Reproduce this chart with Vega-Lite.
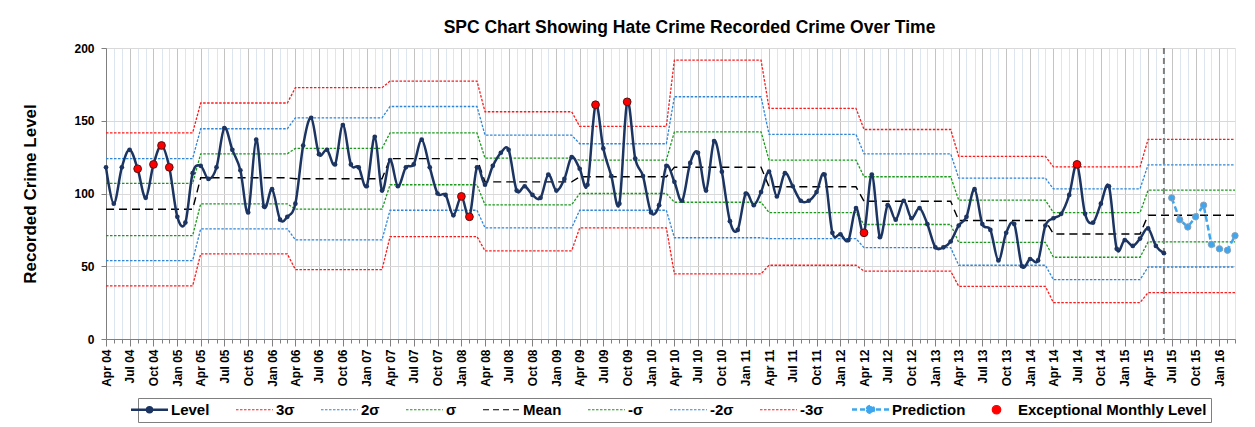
{
  "$schema": "https://vega.github.io/schema/vega-lite/v6.json",
  "autosize": {"type": "none"},
  "width": 1129,
  "height": 291,
  "padding": {"left": 106, "top": 48, "right": 20, "bottom": 88},
  "background": "#ffffff",
  "title": {"text": "SPC Chart Showing Hate Crime Recorded Crime Over Time", "font": "Liberation Sans", "fontSize": 17.5, "fontWeight": "bold", "color": "#000000", "anchor": "middle", "offset": 6, "dx": 19},
  "datasets": {
    "lvl": [
      {"d":"2004-04-01","v":118},{"d":"2004-05-01","v":93},{"d":"2004-06-01","v":118},{"d":"2004-07-01","v":130},{"d":"2004-08-01","v":117,"e":1},{"d":"2004-09-01","v":97},{"d":"2004-10-01","v":120,"e":1},{"d":"2004-11-01","v":133,"e":1},{"d":"2004-12-01","v":118,"e":1},{"d":"2005-01-01","v":84},{"d":"2005-02-01","v":80},{"d":"2005-03-01","v":114},
      {"d":"2005-04-01","v":119},{"d":"2005-05-01","v":110},{"d":"2005-06-01","v":118},{"d":"2005-07-01","v":145},{"d":"2005-08-01","v":130},{"d":"2005-09-01","v":116},{"d":"2005-10-01","v":87},{"d":"2005-11-01","v":137},{"d":"2005-12-01","v":91},{"d":"2006-01-01","v":103},{"d":"2006-02-01","v":82},{"d":"2006-03-01","v":84},
      {"d":"2006-04-01","v":93},{"d":"2006-05-01","v":133},{"d":"2006-06-01","v":152},{"d":"2006-07-01","v":127},{"d":"2006-08-01","v":130},{"d":"2006-09-01","v":120},{"d":"2006-10-01","v":147},{"d":"2006-11-01","v":120},{"d":"2006-12-01","v":118},{"d":"2007-01-01","v":105},{"d":"2007-02-01","v":139},{"d":"2007-03-01","v":102},
      {"d":"2007-04-01","v":123},{"d":"2007-05-01","v":105},{"d":"2007-06-01","v":118},{"d":"2007-07-01","v":120},{"d":"2007-08-01","v":137},{"d":"2007-09-01","v":118},{"d":"2007-10-01","v":100},{"d":"2007-11-01","v":99},{"d":"2007-12-01","v":85},{"d":"2008-01-01","v":98,"e":1},{"d":"2008-02-01","v":84,"e":1},{"d":"2008-03-01","v":118},
      {"d":"2008-04-01","v":106},{"d":"2008-05-01","v":119},{"d":"2008-06-01","v":128},{"d":"2008-07-01","v":130},{"d":"2008-08-01","v":102},{"d":"2008-09-01","v":105},{"d":"2008-10-01","v":99},{"d":"2008-11-01","v":97},{"d":"2008-12-01","v":113},{"d":"2009-01-01","v":102},{"d":"2009-02-01","v":110},{"d":"2009-03-01","v":125},
      {"d":"2009-04-01","v":117},{"d":"2009-05-01","v":106},{"d":"2009-06-01","v":161,"e":1},{"d":"2009-07-01","v":131},{"d":"2009-08-01","v":112},{"d":"2009-09-01","v":93},{"d":"2009-10-01","v":163,"e":1},{"d":"2009-11-01","v":124},{"d":"2009-12-01","v":112},{"d":"2010-01-01","v":87},{"d":"2010-02-01","v":92},{"d":"2010-03-01","v":119},
      {"d":"2010-04-01","v":108},{"d":"2010-05-01","v":95},{"d":"2010-06-01","v":121},{"d":"2010-07-01","v":128},{"d":"2010-08-01","v":102},{"d":"2010-09-01","v":136},{"d":"2010-10-01","v":115},{"d":"2010-11-01","v":81},{"d":"2010-12-01","v":75},{"d":"2011-01-01","v":100},{"d":"2011-02-01","v":92},{"d":"2011-03-01","v":101},
      {"d":"2011-04-01","v":115},{"d":"2011-05-01","v":98},{"d":"2011-06-01","v":114},{"d":"2011-07-01","v":105},{"d":"2011-08-01","v":95},{"d":"2011-09-01","v":95},{"d":"2011-10-01","v":101},{"d":"2011-11-01","v":113},{"d":"2011-12-01","v":73},{"d":"2012-01-01","v":72},{"d":"2012-02-01","v":68},{"d":"2012-03-01","v":90},
      {"d":"2012-04-01","v":73,"e":1},{"d":"2012-05-01","v":113},{"d":"2012-06-01","v":70},{"d":"2012-07-01","v":92},{"d":"2012-08-01","v":82},{"d":"2012-09-01","v":95},{"d":"2012-10-01","v":83},{"d":"2012-11-01","v":90},{"d":"2012-12-01","v":79},{"d":"2013-01-01","v":63},{"d":"2013-02-01","v":63},{"d":"2013-03-01","v":67},
      {"d":"2013-04-01","v":78},{"d":"2013-05-01","v":84},{"d":"2013-06-01","v":103},{"d":"2013-07-01","v":79},{"d":"2013-08-01","v":75},{"d":"2013-09-01","v":54},{"d":"2013-10-01","v":73},{"d":"2013-11-01","v":79},{"d":"2013-12-01","v":50},{"d":"2014-01-01","v":55},{"d":"2014-02-01","v":54},{"d":"2014-03-01","v":78},
      {"d":"2014-04-01","v":83},{"d":"2014-05-01","v":86},{"d":"2014-06-01","v":99},{"d":"2014-07-01","v":120,"e":1},{"d":"2014-08-01","v":86},{"d":"2014-09-01","v":80},{"d":"2014-10-01","v":93},{"d":"2014-11-01","v":105},{"d":"2014-12-01","v":62},{"d":"2015-01-01","v":68},{"d":"2015-02-01","v":64},{"d":"2015-03-01","v":69},
      {"d":"2015-04-01","v":76},{"d":"2015-05-01","v":64},{"d":"2015-06-01","v":59}
    ],
    "pred": [
      {"d":"2015-07-01","v":97},{"d":"2015-08-01","v":82},{"d":"2015-09-01","v":77},{"d":"2015-10-01","v":84},{"d":"2015-11-01","v":92},{"d":"2015-12-01","v":65},{"d":"2016-01-01","v":62},{"d":"2016-02-01","v":61},{"d":"2016-03-01","v":71}
    ],
    "lim": [
      {"d":"2004-04-01","3σ":141.7,"2σ":124,"σ":106.9,"Mean":89.2,"-σ":71.1,"-2σ":53.9,"-3σ":36.5},
      {"d":"2005-03-01","3σ":141.7,"2σ":124,"σ":106.9,"Mean":89.2,"-σ":71.1,"-2σ":53.9,"-3σ":36.5},
      {"d":"2005-04-01","3σ":162.2,"2σ":144.5,"σ":127.3,"Mean":110.8,"-σ":92.9,"-2σ":75.7,"-3σ":58.5},
      {"d":"2006-03-01","3σ":162.2,"2σ":144.5,"σ":127.3,"Mean":110.8,"-σ":92.9,"-2σ":75.7,"-3σ":58.5},
      {"d":"2006-04-01","3σ":172.7,"2σ":152,"σ":131,"Mean":110.1,"-σ":89.2,"-2σ":68.1,"-3σ":47.7},
      {"d":"2007-03-01","3σ":172.7,"2σ":152,"σ":131,"Mean":110.1,"-σ":89.2,"-2σ":68.1,"-3σ":47.7},
      {"d":"2007-04-01","3σ":177.3,"2σ":159.8,"σ":141.7,"Mean":124,"-σ":106,"-2σ":88.5,"-3σ":70.4},
      {"d":"2008-03-01","3σ":177.3,"2σ":159.8,"σ":141.7,"Mean":124,"-σ":106,"-2σ":88.5,"-3σ":70.4},
      {"d":"2008-04-01","3σ":156.2,"2σ":140.1,"σ":124.3,"Mean":108,"-σ":92.2,"-2σ":76.4,"-3σ":60.6},
      {"d":"2009-03-01","3σ":156.2,"2σ":140.1,"σ":124.3,"Mean":108,"-σ":92.2,"-2σ":76.4,"-3σ":60.6},
      {"d":"2009-04-01","3σ":146.1,"2σ":134.2,"σ":123,"Mean":111.5,"-σ":100,"-2σ":88.5,"-3σ":76.4},
      {"d":"2010-03-01","3σ":146.1,"2σ":134.2,"σ":123,"Mean":111.5,"-σ":100,"-2σ":88.5,"-3σ":76.4},
      {"d":"2010-04-01","3σ":191.7,"2σ":166.5,"σ":142.4,"Mean":118,"-σ":94,"-2σ":69.6,"-3σ":44.8},
      {"d":"2011-03-01","3σ":191.7,"2σ":166.5,"σ":142.4,"Mean":118,"-σ":94,"-2σ":69.6,"-3σ":44.8},
      {"d":"2011-04-01","3σ":158.5,"2σ":140.6,"σ":122.9,"Mean":104.6,"-σ":86.9,"-2σ":69,"-3σ":50.7},
      {"d":"2012-03-01","3σ":158.5,"2σ":140.6,"σ":122.9,"Mean":104.6,"-σ":86.9,"-2σ":69,"-3σ":50.7},
      {"d":"2012-04-01","3σ":144,"2σ":127.3,"σ":111.5,"Mean":94.7,"-σ":78.7,"-2σ":62.8,"-3σ":46.6},
      {"d":"2013-03-01","3σ":144,"2σ":127.3,"σ":111.5,"Mean":94.7,"-σ":78.7,"-2σ":62.8,"-3σ":46.6},
      {"d":"2013-04-01","3σ":125.5,"2σ":110.6,"σ":95.4,"Mean":81.4,"-σ":66.4,"-2σ":50.7,"-3σ":36.2},
      {"d":"2014-03-01","3σ":125.5,"2σ":110.6,"σ":95.4,"Mean":81.4,"-σ":66.4,"-2σ":50.7,"-3σ":36.2},
      {"d":"2014-04-01","3σ":118.3,"2σ":103.2,"σ":86.9,"Mean":72.2,"-σ":56.2,"-2σ":40.8,"-3σ":25},
      {"d":"2015-03-01","3σ":118.3,"2σ":103.2,"σ":86.9,"Mean":72.2,"-σ":56.2,"-2σ":40.8,"-3σ":25},
      {"d":"2015-04-01","3σ":137.2,"2σ":119.7,"σ":102.3,"Mean":85.1,"-σ":66.7,"-2σ":49.5,"-3σ":31.9},
      {"d":"2016-03-01","3σ":137.2,"2σ":119.7,"σ":102.3,"Mean":85.1,"-σ":66.7,"-2σ":49.5,"-3σ":31.9}
    ],
    "cut": [{"d":"2015-06-01"}]
  },
  "encoding": {
    "x": {
      "field": "d", "type": "temporal", "title": null,
      "scale": {"type": "utc", "domain": [{"year":2004,"month":4,"date":1,"utc":true},{"year":2016,"month":3,"date":1,"utc":true}], "nice": false},
      "axis": {
        "tickCount": {"interval": "month", "step": 1},
        "labelExpr": "utcmonth(datum.value) % 3 == 0 ? utcFormat(datum.value, '%b %y') : ''",
        "labelAngle": 270,
        "labelOverlap": false, "labelFlush": false, "labelBound": false,
        "labelFont": "Liberation Sans", "labelFontSize": 12, "labelFontWeight": "bold", "labelColor": "#000000", "labelPadding": 3,
        "grid": true,
        "gridColor": {"condition": {"test": "utcmonth(datum.value) % 3 == 0", "value": "#c4c4c4"}, "value": "#dde5ee"},
        "gridWidth": 1,
        "tickColor": "#7f7f7f",
        "tickSize": {"condition": {"test": "utcmonth(datum.value) % 3 == 0", "value": 7}, "value": 4},
        "domainColor": "#7f7f7f", "domainWidth": 1
      }
    }
  },
  "layer": [
    {
      "data": {"name": "lim"},
      "transform": [{"fold": ["3σ","2σ","σ","-σ","-2σ","-3σ"], "as": ["series","v"]}],
      "mark": {"type": "line", "strokeWidth": 1.3, "strokeDash": [2.5,1.5]},
      "encoding": {
        "y": {"field": "v", "type": "quantitative", "title": "Recorded Crime Level", "scale": {"domain": [0,200], "nice": false}},
        "color": {
          "field": "series", "type": "nominal",
          "scale": {
            "domain": ["Level","3σ","2σ","σ","Mean","-σ","-2σ","-3σ","Prediction","Exceptional Monthly Level"],
            "range": ["#1c3461","#ff1a1a","#2f86d8","#1a991a","#000000","#1a991a","#2f86d8","#ff1a1a","#3ea6ee","#ff0000"]
          },
          "legend": {
            "title": null, "orient": "none", "legendX": 32, "legendY": 350, "direction": "horizontal",
            "symbolSize": 100, "symbolStrokeWidth": 1,
            "labelFont": "Liberation Sans", "labelFontSize": 15, "labelFontWeight": "bold", "labelColor": "#000000", "labelLimit": 400,
            "labelOffset": 14, "columnPadding": 23,
            "strokeColor": "#7f7f7f", "padding": 4,
            "encode": {
              "symbols": {
                "update": {
                  "shape": {"signal": "datum.value=='Level' ? 'M-3.7,0H3.7M-0.5,0A0.5,0.5,0,1,1,0.5,0A0.5,0.5,0,1,1,-0.5,0' : datum.value=='Prediction' ? 'M-3.7,0H3.7M-0.7,0A0.7,0.7,0,1,1,0.7,0A0.7,0.7,0,1,1,-0.7,0' : datum.value=='Exceptional Monthly Level' ? 'M-0.85,0A0.85,0.85,0,1,1,0.85,0A0.85,0.85,0,1,1,-0.85,0' : 'M-3.7,0H3.7'"},
                  "fill": {"signal": "datum.value=='Level' ? '#1c3461' : datum.value=='Prediction' ? '#3ea6ee' : datum.value=='Exceptional Monthly Level' ? '#ff0000' : 'transparent'"},
                  "stroke": {"signal": "datum.value=='Exceptional Monthly Level' ? '#5a1010' : scale('color', datum.value)"},
                  "strokeWidth": {"signal": "datum.value=='Level' || datum.value=='Prediction' ? 2.5 : 1.2"},
                  "strokeDash": {"signal": "datum.value=='Mean' ? [6,4] : datum.value=='Prediction' ? [5,3] : (datum.value=='Level' || datum.value=='Exceptional Monthly Level') ? [] : [2.5,1.5]"},
                  "opacity": {"value": 1}
                }
              }
            }
          }
        }
      }
    },
    {
      "data": {"name": "lim"},
      "transform": [{"fold": ["Mean"], "as": ["series","v"]}],
      "mark": {"type": "line", "strokeWidth": 1.4, "strokeDash": [8,5]},
      "encoding": {
        "y": {"field": "v", "type": "quantitative", "title": "Recorded Crime Level"},
        "color": {"field": "series", "type": "nominal"}
      }
    },
    {
      "data": {"name": "cut"},
      "mark": {"type": "rule", "color": "#7f7f7f", "strokeDash": [6,4], "strokeWidth": 2},
      "encoding": {}
    },
    {
      "data": {"name": "lvl"},
      "mark": {"type": "line", "interpolate": "cardinal", "tension": 0, "strokeWidth": 2.5, "point": {"filled": true, "size": 22, "opacity": 1}},
      "encoding": {
        "y": {"field": "v", "type": "quantitative", "title": "Recorded Crime Level"},
        "color": {"datum": "Level", "type": "nominal"}
      }
    },
    {
      "data": {"name": "pred"},
      "mark": {"type": "line", "strokeWidth": 2.5, "strokeDash": [6,3], "point": {"filled": true, "size": 40, "opacity": 1, "stroke": "#8aa0b8", "strokeWidth": 1}},
      "encoding": {
        "y": {"field": "v", "type": "quantitative", "title": "Recorded Crime Level"},
        "color": {"datum": "Prediction", "type": "nominal"}
      }
    },
    {
      "data": {"name": "lvl"},
      "transform": [{"filter": "datum.e == 1"}],
      "mark": {"type": "point", "filled": true, "size": 60, "opacity": 1, "stroke": "#5a1010", "strokeWidth": 1},
      "encoding": {
        "y": {"field": "v", "type": "quantitative", "title": "Recorded Crime Level"},
        "color": {"datum": "Exceptional Monthly Level", "type": "nominal"}
      }
    }
  ],
  "config": {
    "font": "Liberation Sans",
    "view": {"stroke": null},
    "axisY": {
      "tickCount": 4, "gridColor": "#d9d9d9", "gridWidth": 1, "domainColor": "#7f7f7f", "tickColor": "#7f7f7f", "tickSize": 5,
      "labelFont": "Liberation Sans", "labelFontSize": 12, "labelFontWeight": "bold", "labelColor": "#000000", "labelPadding": 7,
      "titleFont": "Liberation Sans", "titleFontSize": 17, "titleFontWeight": "bold", "titleColor": "#000000", "titlePadding": 34
    }
  }
}
